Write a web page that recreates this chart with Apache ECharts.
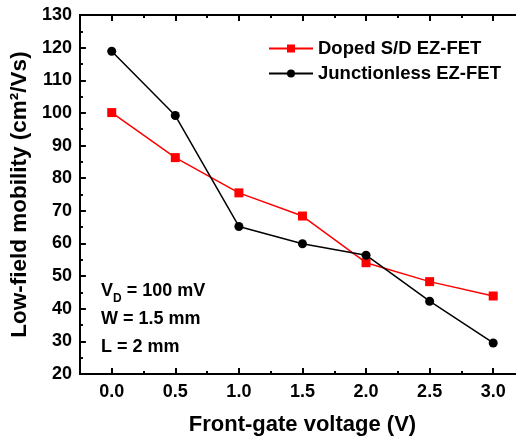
<!DOCTYPE html>
<html>
<head>
<meta charset="utf-8">
<script src="https://cdn.jsdelivr.net/npm/echarts@6/dist/echarts.min.js"></script>
<style>
  html, body { margin: 0; padding: 0; background: #fff; overflow: hidden; }
  #chart { width: 530px; height: 441px; }
</style>
</head>
<body>
<div id="chart"></div>
<script>
// data
const gateVoltage = [0, 0.5, 1.0, 1.5, 2.0, 2.5, 3.0];
const dopedMobility = [100.1, 86.3, 75.5, 68.4, 54.1, 48.3, 43.9];
const junctionlessMobility = [118.9, 99.2, 65.2, 59.9, 56.4, 42.3, 29.5];
const xMajorTicks = [0, 0.5, 1.0, 1.5, 2.0, 2.5, 3.0];
const xMinorTicks = [0.25, 0.75, 1.25, 1.75, 2.25, 2.75, 3.25];

const FONT = "'Liberation Sans', Arial, sans-serif";

const chart = echarts.init(document.getElementById("chart"));

const toPairs = (ys) => gateVoltage.map((x, i) => [x, ys[i]]);

const baseX = {
  type: "value",
  min: -0.25,
  max: 3.25,
  splitLine: { show: false },
  axisLine: { show: true, onZero: false, lineStyle: { color: "#000", width: 2 } },
};

const option = {
  animation: false,
  backgroundColor: "#fff",
  grid: { left: 76, right: 5, top: 15, bottom: 65 },
  legend: {
    left: 263,
    top: 34,
    orient: "vertical",
    itemGap: 6,
    itemWidth: 44,
    itemHeight: 10,
    textStyle: { fontFamily: FONT, fontSize: 18.5, fontWeight: "bold", color: "#000" },
    data: ["Doped S/D EZ-FET", "Junctionless EZ-FET"],
  },
  xAxis: [
    {
      ...baseX,
      name: "Front-gate voltage (V)",
      nameLocation: "middle",
      nameGap: 40,
      nameTextStyle: { fontFamily: FONT, fontSize: 22, fontWeight: "bold", color: "#000" },
      axisTick: { inside: true, length: 6, customValues: xMajorTicks, lineStyle: { width: 2, color: "#000" } },
      axisLabel: {
        customValues: xMajorTicks,
        margin: 9,
        fontFamily: FONT, fontSize: 18, fontWeight: "bold", color: "#000",
        formatter: (v) => v.toFixed(1),
      },
    },
    {
      ...baseX,
      position: "bottom",
      axisTick: { inside: true, length: 3, customValues: xMinorTicks, lineStyle: { width: 2, color: "#000" } },
      axisLabel: { show: false },
    },
    {
      ...baseX,
      position: "top",
      axisTick: { inside: true, length: 6, customValues: xMajorTicks, lineStyle: { width: 2, color: "#000" } },
      axisLabel: { show: false },
    },
    {
      ...baseX,
      position: "top",
      axisTick: { inside: true, length: 3, customValues: xMinorTicks, lineStyle: { width: 2, color: "#000" } },
      axisLabel: { show: false },
    },
  ],
  yAxis: {
    type: "value",
    min: 20,
    max: 130,
    interval: 10,
    name: "Low-field mobility (cm\u00b2/Vs)",
    nameLocation: "middle",
    nameGap: 44,
    nameTextStyle: { fontFamily: FONT, fontSize: 22.5, fontWeight: "bold", color: "#000" },
    splitLine: { show: false },
    axisLine: { show: true, onZero: false, lineStyle: { color: "#000", width: 2 } },
    axisTick: { inside: true, length: 6, lineStyle: { width: 2, color: "#000" } },
    minorTick: { show: true, splitNumber: 2, length: 3, lineStyle: { width: 2, color: "#000" } },
    axisLabel: { margin: 8, fontFamily: FONT, fontSize: 18, fontWeight: "bold", color: "#000" },
  },
  graphic: [
    {
      type: "text",
      left: 101,
      top: 282,
      style: {
        text: "{b|V}{s|D}{b| = 100 mV}\n{b|W = 1.5 mm}\n{b|L = 2 mm}",
        fill: "#000",
        rich: {
          b: { fontFamily: FONT, fontSize: 18, fontWeight: "bold", lineHeight: 28, fill: "#000" },
          s: { fontFamily: FONT, fontSize: 12, fontWeight: "bold", lineHeight: 28, verticalAlign: "bottom", padding: [9, 0, 0, 0], fill: "#000" },
        },
      },
    },
  ],
  series: [
    {
      name: "Doped S/D EZ-FET",
      type: "line",
      data: toPairs(dopedMobility),
      symbol: "rect",
      symbolSize: 9,
      z: 2,
      lineStyle: { color: "#ff0000", width: 1.5 },
      itemStyle: { color: "#ff0000" },
    },
    {
      name: "Junctionless EZ-FET",
      type: "line",
      data: toPairs(junctionlessMobility),
      symbol: "circle",
      symbolSize: 9,
      z: 3,
      lineStyle: { color: "#000", width: 1.5 },
      itemStyle: { color: "#000" },
    },
  ],
};

chart.setOption(option);
</script>
</body>
</html>
